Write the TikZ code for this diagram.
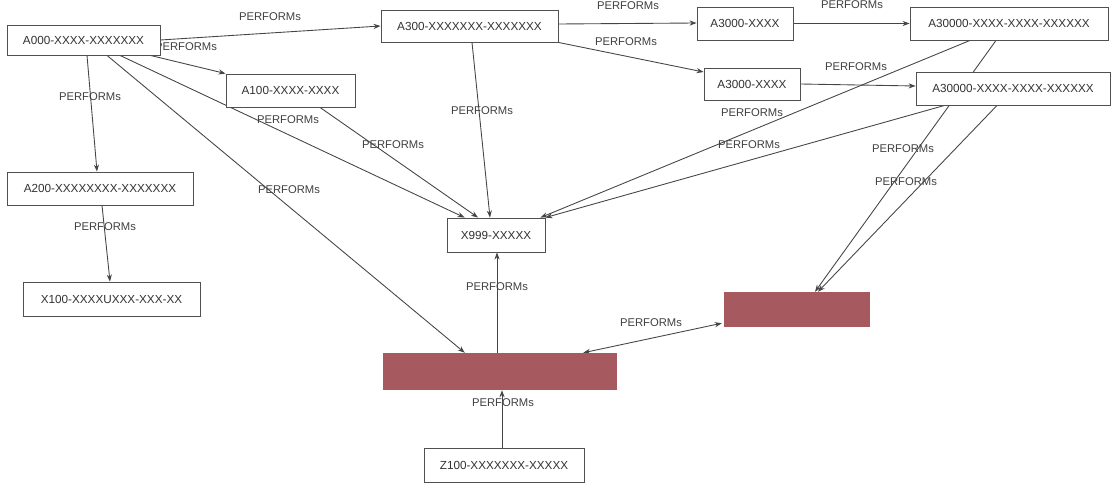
\documentclass[tikz,border=0pt]{standalone}
\usepackage{fontspec}
\setmainfont{Liberation Sans}
\usetikzlibrary{arrows.meta,calc}
\pgfdeclarelayer{bg}
\pgfsetlayers{bg,main}
\definecolor{edgegray}{HTML}{454545}
\definecolor{boxgray}{HTML}{505050}
\definecolor{rust}{HTML}{A65A5F}
\begin{document}
\begin{tikzpicture}[x=0.03cm,y=-0.03cm,
  every node/.style={font=\fontsize{10}{12}\selectfont, text=black!80, inner sep=0pt},
  box/.style 2 args={draw=boxgray, fill=white, line width=0.75pt,
    minimum width=#1*0.03cm, minimum height=#2*0.03cm},
  hot/.style 2 args={fill=rust,
    minimum width=#1*0.03cm, minimum height=#2*0.03cm},
  arr/.style={draw=edgegray, line width=0.75pt, -{Stealth[length=6pt,width=4.4pt]}},
  both/.style={draw=edgegray, line width=0.75pt, {Stealth[length=6pt,width=4.4pt]}-{Stealth[length=6pt,width=4.4pt]}},
  lbl/.style={font=\fontsize{9.6}{11}\selectfont, text=black!75}]
\useasboundingbox (0,0) rectangle (1114,483);

% entities
\node[box={153}{30}]  (A000)    at (83.5,40)   {A000-XXXX-XXXXXXX};
\node[box={177}{32}]  (A300)    at (469.5,26)  {A300-XXXXXXX-XXXXXXX};
\node[box={96}{33}]   (A3000a)  at (745,23.5)  {A3000-XXXX};
\node[box={198}{33}]  (A30000a) at (1009,23.5) {A30000-XXXX-XXXX-XXXXXX};
\node[box={129}{33}]  (A100)    at (290.5,90.5) {A100-XXXX-XXXX};
\node[box={96}{32}]   (A3000b)  at (752,84)    {A3000-XXXX};
\node[box={194}{33}]  (A30000b) at (1013,88.5) {A30000-XXXX-XXXX-XXXXXX};
\node[box={186}{33}]  (A200)    at (100,188.5) {A200-XXXXXXXX-XXXXXXX};
\node[box={177}{34}]  (X100)    at (111.5,299) {X100-XXXXUXXX-XXX-XX};
\node[box={98}{34}]   (X999)    at (496,235)   {X999-XXXXX};
\node[hot={234}{37}]  (R1)      at (500,371.5) {};
\node[hot={146}{35}]  (R2)      at (797,309.5) {};
\node[box={160}{34}]  (Z100)    at (504,465)   {Z100-XXXXXXX-XXXXX};

% relations (kept on the back layer so boxes cover them)
\begin{pgfonlayer}{bg}
\draw[arr] (A000.east) -- (A300.west)
  node[lbl] (l1) at (270,17) {PERFORMs};
\draw[arr] ($(A000.south east)+(-10,0)$) -- (A100.north west)
  node[lbl] (l2) at (186,47) {PERFORMs};
\draw[arr] ($(A000.south)+(3.5,0)$) -- ($(A200.north)+(-3,0)$)
  node[lbl] (l3) at (90,97) {PERFORMs};
\draw[arr] ($(A000.south)+(36.5,0)$) -- ($(X999.north west)+(18,0)$)
  node[lbl] (l4) at (288,120) {PERFORMs};
\draw[arr] ($(A000.south)+(23.5,0)$) -- ($(R1.north west)+(82,0)$)
  node[lbl] (l5) at (289,190) {PERFORMs};
\draw[arr] ($(A100.south)+(29.5,0)$) -- ($(X999.north)+(-18,0)$)
  node[lbl] (l6) at (393,145) {PERFORMs};
\draw[arr] ($(A300.south)+(2.5,0)$) -- ($(X999.north)+(-6,0)$)
  node[lbl] (l7) at (482,111) {PERFORMs};
\draw[arr] ($(A300.east)+(0,-2)$) -- ($(A3000a.west)+(0,-0.5)$)
  node[lbl] (l8) at (628,6) {PERFORMs};
\draw[arr] (A300.south east) -- ($(A3000b.west)+(0,-12)$)
  node[lbl] (l9) at (626,42) {PERFORMs};
\draw[arr] (A3000a.east) -- (A30000a.west)
  node[lbl] (l10) at (852,5) {PERFORMs};
\draw[arr] (A3000b.east) -- ($(A30000b.west)+(0,-2.5)$)
  node[lbl] (l11) at (856,67) {PERFORMs};
\draw[arr] ($(A30000a.south)+(-39,0)$) -- ($(X999.north east)+(-5,0)$)
  node[lbl] (l12) at (752,113) {PERFORMs};
\draw[arr] ($(A30000b.south west)+(29,0)$) -- (X999.north east)
  node[lbl] (l13) at (749,145) {PERFORMs};
\draw[arr] ($(A30000a.south)+(-13,0)$) -- ($(R2.north)+(18,0)$)
  node[lbl] (l14) at (903,149) {PERFORMs};
\draw[arr] ($(A30000b.south)+(-16,0)$) -- ($(R2.north)+(21,0)$)
  node[lbl] (l15) at (906,182) {PERFORMs};
\draw[arr] ($(R1.north)+(-3,0)$) -- ($(X999.south)+(1,0)$)
  node[lbl] (l16) at (497,287) {PERFORMs};
\draw[both] ($(R1.north east)+(-34,0)$) -- ($(R2.south west)+(-2,-4)$)
  node[lbl] (l17) at (651,323) {PERFORMs};
\draw[arr] ($(Z100.north)+(-2,0)$) -- ($(R1.south)+(2,0)$)
  node[lbl] (l18) at (503,403) {PERFORMs};
\draw[arr] ($(A200.south)+(2,0)$) -- ($(X100.north)+(-1.5,0)$)
  node[lbl] (l19) at (105,227) {PERFORMs};
\end{pgfonlayer}
\end{tikzpicture}
\end{document}
